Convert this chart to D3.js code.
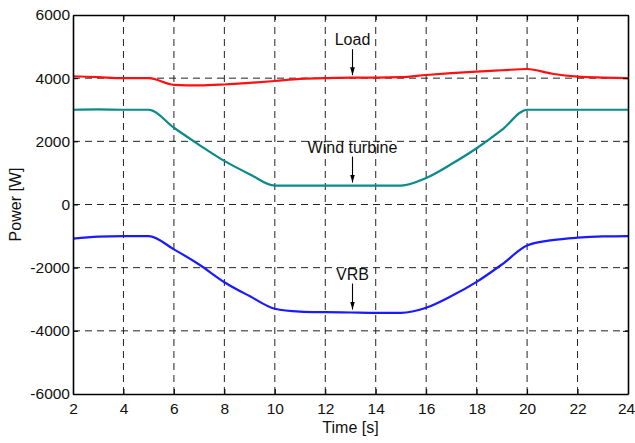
<!DOCTYPE html>
<html>
<head>
<meta charset="utf-8">
<script src="https://cdn.jsdelivr.net/npm/d3@7"></script>
<style>
  body { margin: 0; background: #fff; }
  text { font-family: "Liberation Sans", Arial, sans-serif; }
</style>
</head>
<body>
<script>
// time axis (s)
var time = [2,3,4,5,6,7,8,9,10,11,12,13,14,15,16,17,18,19,20,21,22,23,24];

// power values (W)
var load = [4060,4030,4000,4000,3790,3770,3800,3850,3910,3980,4000,4020,4020,4030,4100,4160,4210,4250,4290,4140,4050,4020,4000];
var wind = [3000,3010,3000,3000,2430,1890,1380,960,600,600,600,600,600,600,840,1280,1780,2360,3000,3000,3000,3000,3000];
var vrb  = [-1080,-1020,-1000,-1000,-1420,-1900,-2460,-2900,-3300,-3390,-3410,-3420,-3430,-3430,-3270,-2900,-2450,-1900,-1300,-1130,-1050,-1010,-1000];

var xTicks = [2,4,6,8,10,12,14,16,18,20,22,24];
var yTicks = [-6000,-4000,-2000,0,2000,4000,6000];

var series = [
  {name: "Load", values: load, color: "#ff1010"},
  {name: "Wind turbine", values: wind, color: "#0a8a8a"},
  {name: "VRB", values: vrb, color: "#1a1aff"}
];

// labels with arrows: [text, time, value where arrow points]
var notes = [
  {text: "Load", t: 13, v: 4000},
  {text: "Wind turbine", t: 13, v: 600},
  {text: "VRB", t: 13, v: -3420}
];

var W = 635, H = 443;
var margin = {top: 15, right: 7, bottom: 49, left: 73};
var width = W - margin.left - margin.right,
    height = H - margin.top - margin.bottom;

var svg = d3.select("body").append("svg")
    .attr("width", W).attr("height", H);
var g = svg.append("g").attr("transform", "translate(" + margin.left + "," + margin.top + ")");

var x = d3.scaleLinear().domain([2, 24]).range([0, width]);
var y = d3.scaleLinear().domain([-6000, 6000]).range([height, 0]);

// dashed grid
g.selectAll(".gx").data(xTicks.slice(1, -1)).enter().append("line")
    .attr("x1", function(d){ return x(d); }).attr("x2", function(d){ return x(d); })
    .attr("y1", 0).attr("y2", height)
    .attr("stroke", "#222").attr("stroke-width", 1).attr("stroke-dasharray", "7,5");
g.selectAll(".gy").data(yTicks.slice(1, -1)).enter().append("line")
    .attr("x1", 0).attr("x2", width)
    .attr("y1", function(d){ return y(d); }).attr("y2", function(d){ return y(d); })
    .attr("stroke", "#222").attr("stroke-width", 1).attr("stroke-dasharray", "7,5");

// data lines
var line = d3.line()
    .x(function(d){ return x(d[0]); })
    .y(function(d){ return y(d[1]); })
    .curve(d3.curveMonotoneX);

series.forEach(function(s){
  g.append("path")
    .datum(time.map(function(t, i){ return [t, s.values[i]]; }))
    .attr("fill", "none")
    .attr("stroke", s.color)
    .attr("stroke-width", 2.2)
    .attr("d", line);
});

// axes (ticks inward, MATLAB style), plain hyphen for minus
var fmt = d3.formatLocale({decimal: ".", thousands: "", grouping: [3], currency: ["", ""], minus: "-"}).format("d");
var xAxis = g.append("g").attr("transform", "translate(0," + height + ")")
    .call(d3.axisBottom(x).tickValues(xTicks).tickFormat(fmt).tickSizeInner(-5).tickSizeOuter(0).tickPadding(9));
var yAxis = g.append("g")
    .call(d3.axisLeft(y).tickValues(yTicks).tickFormat(fmt).tickSizeInner(-5).tickSizeOuter(0).tickPadding(3));
g.append("g").attr("transform", "translate(" + width + ",0)")
    .call(d3.axisRight(y).tickValues(yTicks).tickSizeInner(-5).tickSizeOuter(0).tickFormat(""));
g.append("g")
    .call(d3.axisTop(x).tickValues(xTicks).tickSizeInner(-5).tickSizeOuter(0).tickFormat(""));

svg.selectAll(".domain").attr("stroke", "#000").attr("stroke-width", 1.6);
svg.selectAll(".tick line").attr("stroke", "#000");
svg.selectAll(".tick text").attr("font-size", "15.5px").attr("fill", "#111")
    .style("font-family", "'Liberation Sans', Arial, sans-serif");
xAxis.selectAll(".tick text").attr("dy", "0.71em");
// keep the last x label inside the window
xAxis.selectAll(".tick text").filter(function(d){ return d === 24; }).attr("dx", "-2");

// axis titles
svg.append("text")
    .attr("x", margin.left + width / 2).attr("y", 433)
    .attr("text-anchor", "middle").attr("font-size", "16px").attr("fill", "#111")
    .text("Time [s]");
svg.append("text")
    .attr("transform", "translate(21," + (margin.top + height / 2) + ") rotate(-90)")
    .attr("text-anchor", "middle").attr("font-size", "16px").attr("fill", "#111")
    .text("Power [W]");

// annotations with arrows
svg.append("defs").append("marker")
    .attr("id", "head").attr("viewBox", "0 0 10 10")
    .attr("refX", 10).attr("refY", 5)
    .attr("markerWidth", 8).attr("markerHeight", 8)
    .attr("markerUnits", "userSpaceOnUse")
    .attr("orient", "auto")
  .append("path").attr("d", "M0,2 L10,5 L0,8 Z").attr("fill", "#000");

notes.forEach(function(n){
  var px = x(n.t) + 2, py = y(n.v) - 3;
  g.append("line")
    .attr("x1", px).attr("x2", px)
    .attr("y1", py - 26).attr("y2", py)
    .attr("stroke", "#000").attr("stroke-width", 1.1)
    .attr("marker-end", "url(#head)");
  g.append("text")
    .attr("x", px).attr("y", py - 30)
    .attr("text-anchor", "middle").attr("font-size", "16px").attr("fill", "#111")
    .text(n.text);
});
</script>
</body>
</html>
